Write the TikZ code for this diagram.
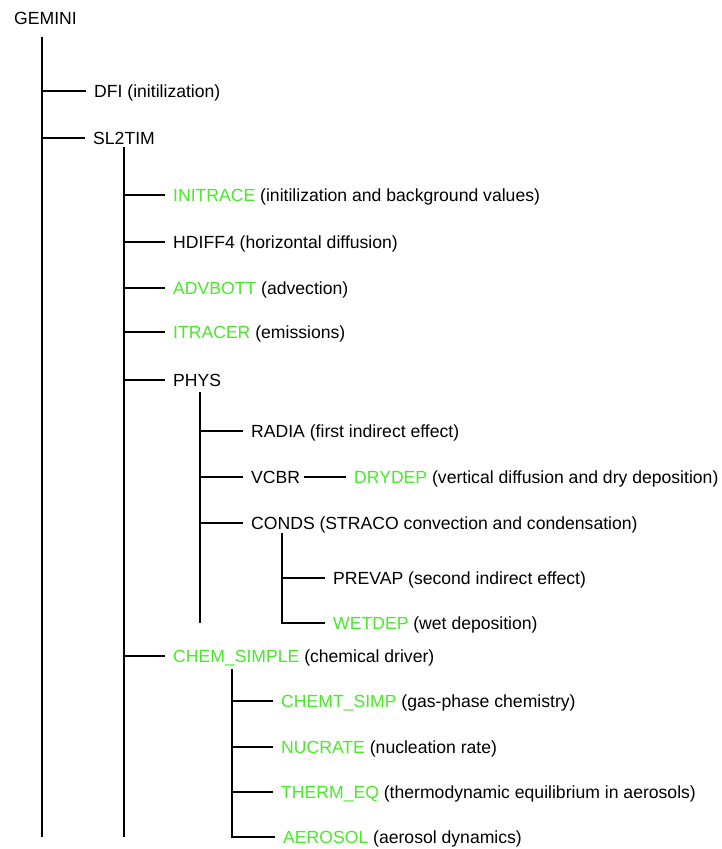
\documentclass[tikz,border=0pt]{standalone}
\usepackage{fontspec}
\setmainfont{Liberation Sans}

\definecolor{rtgreen}{RGB}{70,235,40}
\newcommand{\rt}[1]{\textcolor{rtgreen}{#1}}

\tikzstyle{sub}=[anchor=west, inner xsep=8pt, inner ysep=0pt, text height=12.5pt, text depth=0pt, font=\fontsize{17.6}{20}\selectfont]
\tikzstyle{branch}=[line width=1.9pt]

\begin{document}
\begin{tikzpicture}[x=1pt,y=-1pt]
\useasboundingbox (0,0) rectangle (721,849);

\node[sub] (gemini) at (6,18) {GEMINI};
\node[sub] (dfi) at (86,91) {DFI (initilization)};
\node[sub] (sl2tim) at (85,138) {SL2TIM};

\node[sub] (initrace) at (165,195) {\rt{INITRACE} (initilization and background values)};
\node[sub] (hdiff) at (165,242) {HDIFF4 (horizontal diffusion)};
\node[sub] (advbott) at (165,288) {\rt{ADVBOTT} (advection)};
\node[sub] (itracer) at (165,332) {\rt{ITRACER} (emissions)};
\node[sub] (phys) at (165,380) {PHYS};
\node[sub] (chem) at (165,656) {\rt{CHEM\_SIMPLE} (chemical driver)};

\node[sub] (radia) at (243,431) {RADIA (first indirect effect)};
\node[sub] (vcbr) at (243,477) {VCBR};
\node[sub] (drydep) at (346,477) {\rt{DRYDEP} (vertical diffusion and dry deposition)};
\node[sub] (conds) at (243,523) {CONDS (STRACO convection and condensation)};

\node[sub] (prevap) at (325,578) {PREVAP (second indirect effect)};
\node[sub] (wetdep) at (325,623) {\rt{WETDEP} (wet deposition)};

\node[sub] (chemt) at (273,701) {\rt{CHEMT\_SIMP} (gas-phase chemistry)};
\node[sub] (nucrate) at (273,747) {\rt{NUCRATE} (nucleation rate)};
\node[sub] (therm) at (273,792) {\rt{THERM\_EQ} (thermodynamic equilibrium in aerosols)};
\node[sub] (aerosol) at (275,837) {\rt{AEROSOL} (aerosol dynamics)};

% trunks
\coordinate (gtop) at (42,37);
\coordinate (gbot) at (42,837);
\coordinate (stop) at (124,147);
\coordinate (sbot) at (124,837);
\coordinate (ptop) at (200,392);
\coordinate (pbot) at (200,623);
\coordinate (ctop) at (282,533);
\coordinate (mtop) at (232,669);

\draw[branch] (gtop) -- (gbot);
\draw[branch] (stop) -- (sbot);
\draw[branch] (ptop) -- (pbot);

% branches
\foreach \n in {dfi,sl2tim} \draw[branch] (gtop |- \n.west) -- (\n.west);
\foreach \n in {initrace,hdiff,advbott,itracer,phys,chem} \draw[branch] (stop |- \n.west) -- (\n.west);
\foreach \n in {radia,vcbr,conds} \draw[branch] (ptop |- \n.west) -- (\n.west);
\draw[branch] ([xshift=-4pt]vcbr.east) -- (drydep.west);
\draw[branch] (ctop) |- (wetdep.west);
\draw[branch] (ctop |- prevap.west) -- (prevap.west);
\draw[branch] (mtop) |- (aerosol.west);
\foreach \n in {chemt,nucrate,therm} \draw[branch] (mtop |- \n.west) -- (\n.west);

\end{tikzpicture}
\end{document}
